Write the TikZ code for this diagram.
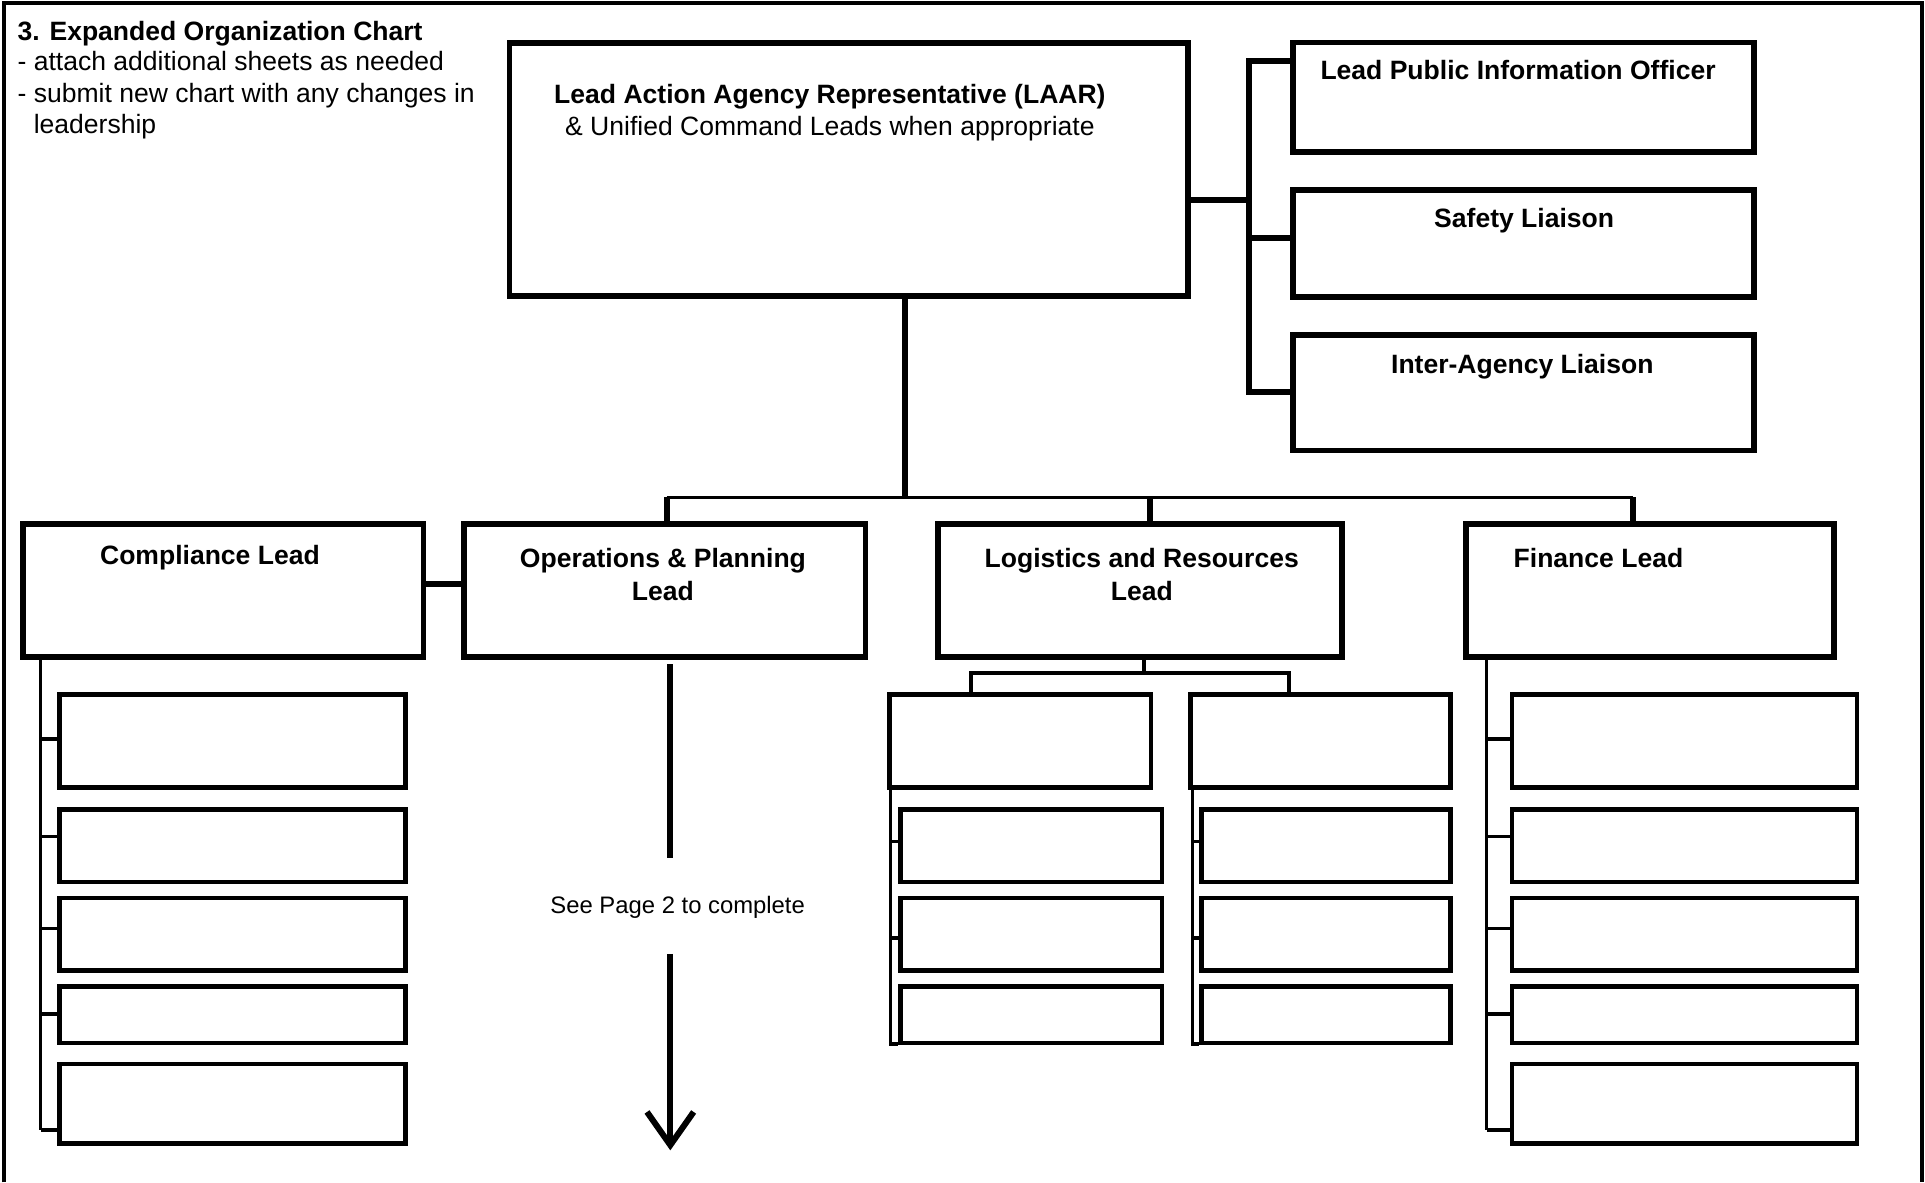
\documentclass[tikz,border=0pt]{standalone}
\usepackage{fontspec}
\setmainfont{Liberation Sans}
\usetikzlibrary{arrows.meta,positioning,fit}

\begin{document}
\begin{tikzpicture}[x=0.02cm, y=-0.02cm,
  leadbox/.style={draw, line width=2.7pt, inner sep=0pt},
  cellbox/.style={draw, line width=2.1pt, inner sep=0pt},
  boxtitle/.style={font=\fontsize{12.3}{15.4}\selectfont\bfseries, align=center, anchor=base, inner sep=0pt},
  heavy/.style={line width=2.8pt},
  light/.style={line width=1.6pt},
  hair/.style={line width=1.3pt}]
\useasboundingbox (0,0) rectangle (1568,963);
\draw[line width=1.9pt] (3,963) -- (3,2.5) -- (1565.5,2.5) -- (1565.5,963);

% multi-line nodes sit on the baseline of their last line
\node[anchor=base west, inner sep=0pt, font=\fontsize{12.3}{14}\selectfont\bfseries] (title) at (14,33) {3. Expanded Organization Chart};
\node[anchor=base west, align=left, inner sep=0pt, font=\fontsize{12.3}{14.65}\selectfont] (notes) at (14,109) {- attach additional sheets as needed\\- submit new chart with any changes in\\\phantom{-\ }leadership};

% top level
\node[leadbox, fit={(415,35) (968,241)}] (laar) {};
\node[leadbox, fit={(1053,34.6) (1429,124)}] (pio) {};
\node[leadbox, fit={(1053,154.5) (1429,242)}] (safety) {};
\node[leadbox, fit={(1053,273) (1429,367)}] (liaison) {};
\node[boxtitle, font=\fontsize{12.3}{14.8}\selectfont\bfseries] (laar-t) at (676,110) {Lead Action Agency Representative (LAAR)\\{\mdseries \& Unified Command Leads when appropriate}};
\node[boxtitle] (pio-t) at (1236.5,64.6) {Lead Public Information Officer};
\node[boxtitle] (safety-t) at (1241.5,185) {Safety Liaison};
\node[boxtitle] (liaison-t) at (1240,304) {Inter-Agency Liaison};

\coordinate (spine-top) at (1017,50);
\coordinate (spine-bot) at (1017,319);
\draw[heavy] (laar.east |- 0,163) -- (spine-top |- 0,163);
\draw[heavy] (pio.west |- spine-top) -- (spine-top) -- (spine-bot) -- (liaison.west |- spine-bot);
\draw[heavy] (safety.west |- 0,194) -- (spine-top |- 0,194);

% second level
\node[leadbox, fit={(19,427) (345,535)}] (comp) {};
\node[leadbox, fit={(378,427) (705,535)}] (ops) {};
\node[leadbox, fit={(764,427) (1093,535)}] (logi) {};
\node[leadbox, fit={(1194,427) (1494,535)}] (fin) {};
\node[boxtitle] (comp-t) at (171,460) {Compliance Lead};
\node[boxtitle] (ops-t) at (540,489) {Operations \& Planning\\Lead};
\node[boxtitle] (logi-t) at (930,489) {Logistics and Resources\\Lead};
\node[boxtitle] (fin-t) at (1302,462) {Finance Lead};

\coordinate (hub) at (737,405);
\coordinate (drop-ops) at (543,405);
\coordinate (drop-logi) at (937,405);
\coordinate (drop-fin) at (1330,405);
\draw[heavy] (laar.south -| hub) -- (hub);
\draw[hair] (drop-ops) -- (drop-fin);
\draw[heavy] (drop-ops) -- (ops.north -| drop-ops);
\draw[heavy] (drop-logi) -- (logi.north -| drop-logi);
\draw[heavy] (drop-fin) -- (fin.north -| drop-fin);
\draw[heavy] (comp.east |- 0,476) -- (ops.west |- 0,476);

% compliance and finance columns
\foreach \top/\bot [count=\i] in {565.5/641.5, 659.5/718.5, 731.5/790.5, 803.5/849.5, 866.5/931.5} {
  \node[cellbox, fit={(48.5,\top) (330.5,\bot)}] (comp-\i) {};
  \node[cellbox, fit={(1231.5,\top) (1512.5,\bot)}] (fin-\i) {};
}
\coordinate (comp-spine) at (33,920.5);
\coordinate (fin-spine) at (1211,920.5);
\draw[light] (comp.south -| comp-spine) -- (comp-spine);
\draw[light] (fin.south -| fin-spine) -- (fin-spine);
\foreach \y [count=\i] in {602,681.5,756.5,826,920.5} {
  \draw[light] (comp-spine |- 0,\y) -- (comp-\i.west |- 0,\y);
  \draw[light] (fin-spine |- 0,\y) -- (fin-\i.west |- 0,\y);
}

% logistics column
\node[cellbox, fit={(724.5,565.5) (937.5,641.5)}] (logi-a) {};
\node[cellbox, fit={(969.5,565.5) (1181.5,641.5)}] (logi-b) {};
\coordinate (logi-fork) at (932,548);
\coordinate (fork-a) at (791,548);
\coordinate (fork-b) at (1050,548);
\draw[light] (logi.south -| logi-fork) -- (logi-fork);
\draw[light] (logi-a.north -| fork-a) -- (fork-a) -- (fork-b) -- (logi-b.north -| fork-b);
\foreach \top/\bot [count=\i] in {659.5/718.5, 731.5/790.5, 803.5/849.5} {
  \node[cellbox, fit={(733.5,\top) (946.5,\bot)}] (logi-a\i) {};
  \node[cellbox, fit={(978.5,\top) (1181.5,\bot)}] (logi-b\i) {};
}
\coordinate (spine-a) at (725.5,852);
\coordinate (spine-b) at (971.5,852);
\draw[light] (logi-a.south -| spine-a) -- (spine-a);
\draw[light] (logi-b.south -| spine-b) -- (spine-b);
\foreach \y [count=\i] in {685.5,764,850.5} {
  \draw[light] (spine-a |- 0,\y) -- (logi-a\i.west |- 0,\y);
  \draw[light] (spine-b |- 0,\y) -- (logi-b\i.west |- 0,\y);
}

% continuation arrow
\coordinate (ops-out) at (546,541);
\node[anchor=base, font=\fontsize{11.05}{13}\selectfont] (seepage) at (552,744) {See Page 2 to complete};
\draw[heavy] (ops-out) -- (ops-out |- 0,699);
\draw[heavy, -{Straight Barb[length=0.54cm, width=0.76cm]}] (ops-out |- 0,777) -- (ops-out |- 0,937);
\end{tikzpicture}
\end{document}
